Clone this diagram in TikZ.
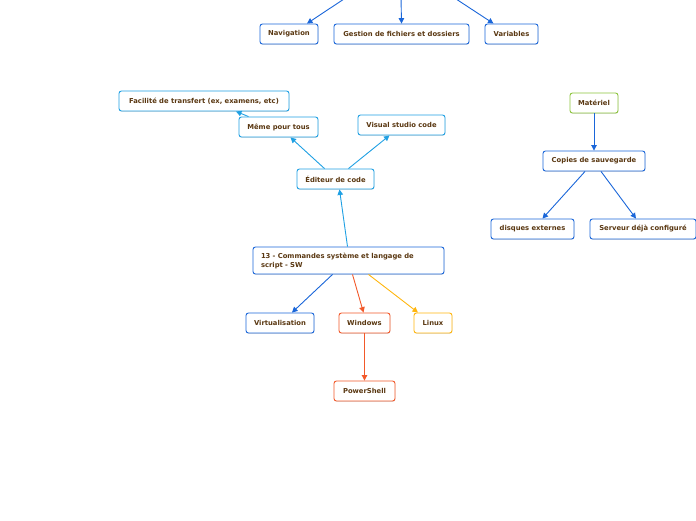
\documentclass[tikz,border=0pt]{standalone}
\usepackage{fontspec}
\setmainfont{DejaVu Sans}
\usetikzlibrary{arrows.meta,shadows}
\definecolor{txtbrown}{HTML}{5A3812}
\definecolor{mmblue}{HTML}{1A66D9}
\definecolor{mmcyan}{HTML}{1FA0E3}
\definecolor{mmred}{HTML}{F2592A}
\definecolor{mmyellow}{HTML}{FFB60F}
\definecolor{mmgreen}{HTML}{8CC43C}
\begin{document}
\begin{tikzpicture}[x=1pt,y=-1pt,
    topic/.style={draw=#1, fill=white, line width=0.9pt, rounded corners=2.5pt,
        minimum height=20pt, inner xsep=0pt, inner ysep=2pt,
        drop shadow={shadow xshift=0.4pt, shadow yshift=-0.8pt, opacity=0.25},
        font=\fontsize{6.8}{9}\selectfont\bfseries, text=txtbrown},
    link/.style={draw=#1, line width=0.9pt, -{Triangle[width=5.5pt,length=5.5pt]}}]
    \useasboundingbox (0,0) rectangle (696,520);
    % top branch
    \coordinate (t1) at (347,-3);
    \coordinate (t2) at (401,-3);
    \coordinate (t3) at (453,-3);
    \node[topic=mmblue, minimum width=58pt] (nav) at (289,34) {Navigation};
    \node[topic=mmblue, minimum width=135pt] (gest) at (401.5,34) {Gestion de fichiers et dossiers};
    \node[topic=mmblue, minimum width=53pt] (vars) at (511.5,34) {Variables};
    \draw[link=mmblue] (t1) -- ([xshift=18pt]nav.north);
    \draw[link=mmblue] (t2) -- (gest.north);
    \draw[link=mmblue] (t3) -- ([xshift=-18pt]vars.north);
    % code editor
    \node[topic=mmcyan, minimum width=170pt] (facil) at (204,101) {Facilité de transfert (ex, examens, etc)};
    \node[topic=mmcyan, minimum width=79pt] (meme) at (278.5,127) {Même pour tous};
    \node[topic=mmcyan, minimum width=87pt] (vscode) at (401.5,125) {Visual studio code};
    \node[topic=mmcyan, minimum width=77pt] (editeur) at (335.5,179) {Éditeur de code};
    % main topic
    \node[topic=mmblue, minimum width=191pt, minimum height=27pt, text width=175pt,
        align=left] (main) at (348.5,260.5) {13 - Commandes système et langage de script - SW};
    \draw[link=mmcyan] ([xshift=-1pt]main.north) -- ([xshift=4pt]editeur.south);
    \draw[link=mmcyan] ([xshift=-11pt]editeur.north) -- ([xshift=12pt]meme.south);
    \draw[link=mmcyan] ([xshift=13pt]editeur.north) -- ([xshift=-12pt]vscode.south);
    \draw[link=mmcyan] ([xshift=-30pt]meme.north) -- ([xshift=32pt]facil.south);
    % children
    \node[topic=mmblue, minimum width=68pt] (virt) at (280,323) {Virtualisation};
    \node[topic=mmred, minimum width=51pt] (win) at (364.5,323) {Windows};
    \node[topic=mmyellow, minimum width=38pt] (linux) at (433,323) {Linux};
    \node[topic=mmred, minimum width=61pt] (pshell) at (364.5,391) {PowerShell};
    \draw[link=mmblue] ([xshift=-16pt]main.south) -- ([xshift=12pt]virt.north);
    \draw[link=mmred] ([xshift=4pt]main.south) -- ([xshift=-1pt]win.north);
    \draw[link=mmyellow] ([xshift=20pt]main.south) -- ([xshift=-15pt]linux.north);
    \draw[link=mmred] (win) -- (pshell);
    % backups
    \node[topic=mmgreen, minimum width=48pt] (mat) at (594,103) {Matériel};
    \node[topic=mmblue, minimum width=102pt] (copies) at (594,161) {Copies de sauvegarde};
    \node[topic=mmblue, minimum width=83pt] (disques) at (532.5,229) {disques externes};
    \node[topic=mmblue, minimum width=106pt] (serveur) at (643,229) {Serveur déjà configuré};
    \draw[link=mmblue] (mat) -- (copies);
    \draw[link=mmblue] ([xshift=-9pt]copies.south) -- ([xshift=10pt]disques.north);
    \draw[link=mmblue] ([xshift=7pt]copies.south) -- ([xshift=-7pt]serveur.north);
\end{tikzpicture}
\end{document}
